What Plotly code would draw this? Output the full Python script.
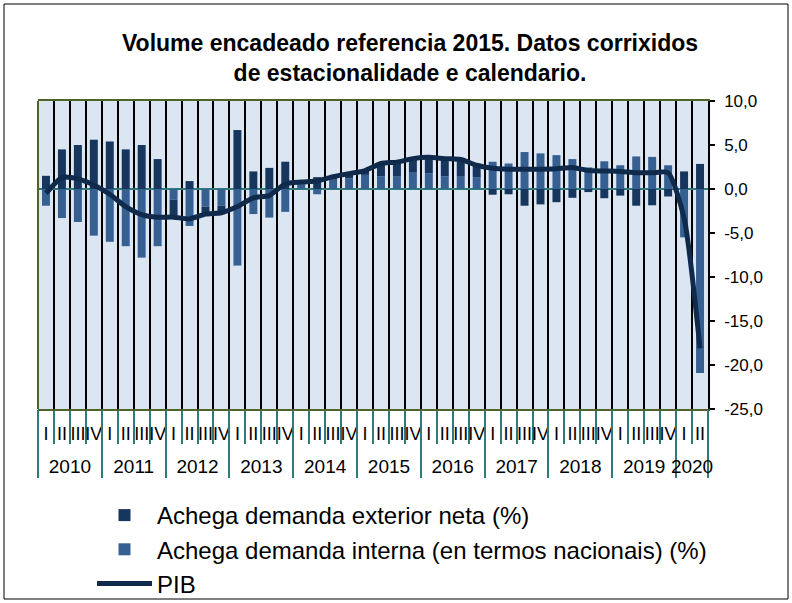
import plotly.graph_objects as go

years = ["2010"] * 4 + ["2011"] * 4 + ["2012"] * 4 + ["2013"] * 4 + ["2014"] * 4 + \
        ["2015"] * 4 + ["2016"] * 4 + ["2017"] * 4 + ["2018"] * 4 + ["2019"] * 4 + ["2020"] * 2
quarters = ["I", "II", "III", "IV"] * 10 + ["I", "II"]

exterior = [1.5, 4.5, 5.0, 5.6, 5.4, 4.5, 5.0, 3.4,
            -1.9, 0.9, -0.75, -0.65, 6.7, 2.0, 2.4, 3.1,
            0.3, 1.35, 0.4, 0.55, 0.5, 1.45, 1.65, 1.6,
            1.8, 1.8, 1.9, 1.35, -0.65, -0.6, -1.9, -1.75,
            -1.5, -1.0, -0.35, -1.05, -0.75, -1.9, -1.85, -0.85,
            2.0, 2.85]
interna = [-1.9, -3.3, -3.75, -5.3, -6.0, -6.5, -7.8, -6.5,
           -1.2, -4.2, -2.0, -1.9, -8.7, -2.85, -3.25, -2.6,
           0.5, -0.6, 1.05, 1.2, 1.6, 1.45, 1.4, 1.85,
           1.8, 1.45, 1.4, 1.35, 3.1, 2.9, 4.2, 4.05,
           3.85, 3.4, 2.45, 3.15, 2.7, 3.7, 3.65, 2.7,
           -5.5, -20.9]
pib = [-0.5, 1.3, 1.15, 0.45, -0.6, -2.0, -2.9, -3.2,
       -3.2, -3.4, -2.85, -2.7, -2.0, -1.0, -0.75, 0.6,
       0.8, 0.9, 1.4, 1.75, 2.1, 2.9, 3.05, 3.45,
       3.6, 3.45, 3.35, 2.7, 2.35, 2.25, 2.25, 2.25,
       2.3, 2.45, 2.1, 2.05, 2.0, 1.85, 1.85, 1.85,
       -3.3, -18.1]

y_ticks = [10, 5, 0, -5, -10, -15, -20, -25]
y_tick_text = ["10,0", "5,0", "0,0", "-5,0", "-10,0", "-15,0", "-20,0", "-25,0"]

FONT = "Liberation Sans, Arial, sans-serif"
TEAL = "#31787A"

n = len(quarters)
idx = list(range(n))
year_labels = list(dict.fromkeys(years))
year_centers = [sum(i for i in idx if years[i] == y) / years.count(y) for y in year_labels]
year_bounds = [-0.5] + [i + 0.5 for i in range(n - 1) if years[i] != years[i + 1]] + [n - 0.5]
x_range = [-0.5, n - 0.5]

fig = go.Figure()
fig.add_trace(go.Bar(
    x=idx, y=interna, name="Achega demanda interna (en termos nacionais) (%)",
    marker=dict(color="#376092", line=dict(width=0)), legendrank=2, legendgroup="b",
))
fig.add_trace(go.Bar(
    x=idx, y=exterior, name="Achega demanda exterior neta (%)",
    marker=dict(color="#17365D", line=dict(width=0)), legendrank=1, legendgroup="a",
))
fig.add_trace(go.Scatter(
    x=idx, y=pib, name="PIB", mode="lines", xaxis="x2",
    line=dict(color="#102A4C", width=5, shape="spline", smoothing=0.6),
    legendrank=3, legendgroup="c",
))

L, R, T, B = 38, 84, 101, 194
W, H = 792, 603
pw, ph = W - L - R, H - T - B

def px_x(v):
    return (v - L) / pw

def px_y(v):
    return (H - B - v) / ph

fig.update_layout(
    width=W, height=H,
    margin=dict(l=L, r=R, t=T, b=B, autoexpand=False),
    paper_bgcolor="white",
    plot_bgcolor="#DCE6F2",
    barmode="relative",
    bargap=0.5,
    separators=",.",
    font=dict(family=FONT, color="black"),
    title=dict(
        text="<b>Volume encadeado referencia 2015. Datos corrixidos<br>de estacionalidade e calendario.</b>",
        x=px_x(410), xref="paper", xanchor="center",
        y=1 - 51 / H, yanchor="top",
        font=dict(size=23, family=FONT, color="black"),
    ),
    showlegend=True,
    legend=dict(
        x=px_x(92), y=px_y(493), xanchor="left", yanchor="top",
        font=dict(size=24, family=FONT, color="black"),
        bgcolor="rgba(0,0,0,0)", tracegroupgap=0, itemwidth=55,
    ),
    xaxis=dict(
        range=x_range,
        tickmode="array", tickvals=idx, ticktext=quarters,
        ticks="", showgrid=False, tickangle=0,
        ticklabelstandoff=7,
        minor=dict(tickmode="linear", tick0=-0.5, dtick=1,
                   ticks="outside", ticklen=33, tickcolor=TEAL, tickwidth=1.5,
                   showgrid=True, gridcolor="black", gridwidth=1.5),
        showline=True, linecolor="#4F6228", linewidth=2, mirror=True,
        tickfont=dict(size=18, family=FONT, color="black"),
        zeroline=False, automargin=False, fixedrange=True,
    ),
    xaxis2=dict(
        overlaying="x", anchor="y", side="bottom",
        range=x_range,
        tickmode="array", tickvals=year_centers, ticktext=year_labels,
        ticks="", showgrid=False, tickangle=0,
        ticklabelstandoff=44,
        minor=dict(tickmode="array", tickvals=year_bounds,
                   ticks="outside", ticklen=68, tickcolor=TEAL, tickwidth=1.5,
                   showgrid=False),
        showline=False,
        tickfont=dict(size=19, family=FONT, color="black"),
        zeroline=False, automargin=False, fixedrange=True,
    ),
    yaxis=dict(
        side="right",
        range=[-25, 10],
        tickvals=y_ticks, ticktext=y_tick_text,
        ticks="outside", ticklen=5, tickcolor="black", tickwidth=1.5,
        ticklabelstandoff=6,
        showgrid=False,
        zeroline=True, zerolinecolor=TEAL, zerolinewidth=2,
        showline=True, linecolor="black", linewidth=1.5,
        tickfont=dict(size=17, family=FONT, color="black"),
        automargin=False, fixedrange=True,
    ),
    shapes=[
        dict(type="line", xref="paper", yref="paper", x0=0, x1=0, y0=0, y1=1,
             line=dict(color="#4F6228", width=2), layer="above"),
        dict(type="rect", xref="paper", yref="paper",
             x0=px_x(4), x1=px_x(788), y0=px_y(599), y1=px_y(4),
             line=dict(color="black", width=1), fillcolor="rgba(0,0,0,0)", layer="above"),
    ],
)

fig.write_html("out.html", config={"displayModeBar": False},
               post_script="document.body.style.margin='0';")
